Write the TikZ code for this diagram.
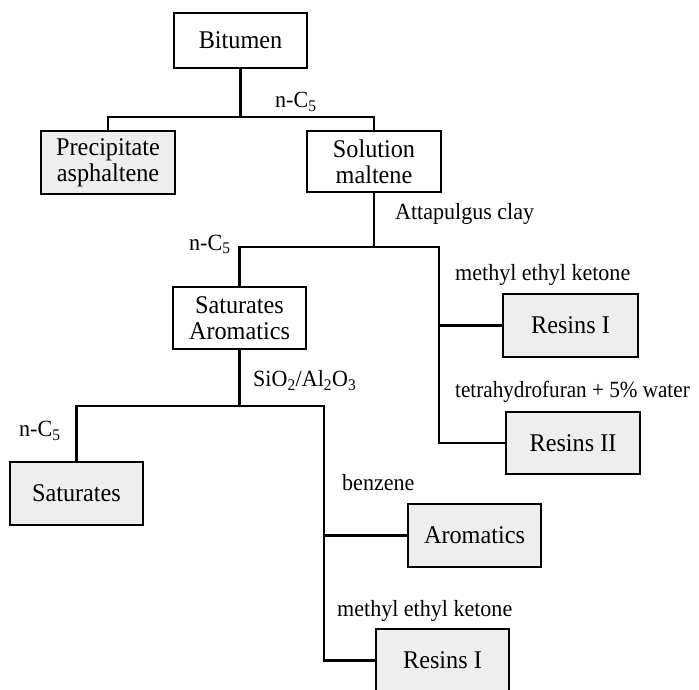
\documentclass[tikz,border=0pt]{standalone}
\usepackage{fontspec}
\setmainfont{Liberation Serif}[FakeStretch=0.95]
\definecolor{boxgray}{RGB}{238,238,238}
\tikzset{
  box/.style={draw=black, line width=2.2pt, align=center, inner sep=0pt,
    font=\fontsize{25.5}{26}\selectfont},
  wbox/.style={box, fill=white},
  gbox/.style={box, fill=boxgray},
  lbl/.style={anchor=base west, inner sep=0pt, font=\fontsize{23.2}{25}\selectfont},
  conn/.style={line width=2.2pt}
}
\begin{document}
\begin{tikzpicture}[x=1pt, y=-1pt]
\useasboundingbox (0,0) rectangle (699,690);
\clip (0,0) rectangle (699,690);
% boxes
\node[wbox, minimum width=133pt, minimum height=55pt] (bitumen) at (240.5,40.5) {Bitumen};
\node[gbox, minimum width=134pt, minimum height=63pt] (precip) at (108,162.5) {Precipitate\\asphaltene};
\node[wbox, minimum width=134pt, minimum height=61pt] (solution) at (374,161.5) {Solution\\maltene};
\node[wbox, minimum width=133pt, minimum height=62pt] (satarom) at (239.5,318) {Saturates\\Aromatics};
\node[gbox, minimum width=135pt, minimum height=63pt] (resinsA) at (570.5,325.5) {Resins I};
\node[gbox, minimum width=134pt, minimum height=62pt] (resinsB) at (573,443) {Resins II};
\node[gbox, minimum width=133pt, minimum height=63pt] (saturates) at (76.5,493.5) {Saturates};
\node[gbox, minimum width=133pt, minimum height=63pt] (aromatics) at (474.5,535.5) {Aromatics};
\node[gbox, minimum width=133pt, minimum height=63pt] (resinsC) at (442.5,660.5) {Resins I};
% junctions
\coordinate (j1) at (240.5,117);
\coordinate (v1) at (439,247);
\coordinate (v2) at (324,406);
% connectors
\draw[conn] (bitumen.south) -- (j1);
\draw[conn] (precip.north) |- (j1) -| (solution.north);
\draw[conn] (solution.south) -- (solution.south |- v1);
\draw[conn] (satarom.north) |- (v1) |- (resinsB.west);
\draw[conn] (v1 |- resinsA.west) -- (resinsA.west);
\draw[conn] (satarom.south) -- (satarom.south |- v2);
\draw[conn] (saturates.north) |- (v2) |- (resinsC.west);
\draw[conn] (v2 |- aromatics.west) -- (aromatics.west);
% labels
\node[lbl] (l1) at (275,108) {n-C\textsubscript{5}};
\node[lbl] (l2) at (395,219) {Attapulgus clay};
\node[lbl] (l3) at (189,250) {n-C\textsubscript{5}};
\node[lbl] (l4) at (455,280.5) {methyl ethyl ketone};
\node[lbl] (l5) at (253,386.5) {SiO\textsubscript{2}/Al\textsubscript{2}O\textsubscript{3}};
\node[lbl] (l6) at (455,397) {\scalebox{0.96}[1]{tetrahydrofuran + 5\% water}};
\node[lbl] (l7) at (19,436.5) {n-C\textsubscript{5}};
\node[lbl] (l8) at (342,490.5) {benzene};
\node[lbl] (l9) at (337,616.5) {methyl ethyl ketone};
\end{tikzpicture}
\end{document}
